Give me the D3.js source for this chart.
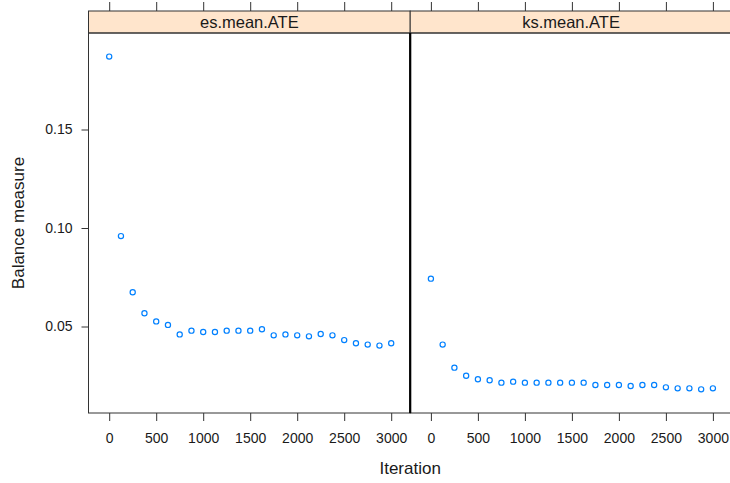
<!DOCTYPE html>
<html>
<head>
<meta charset="utf-8">
<script src="https://cdn.jsdelivr.net/npm/d3@7"></script>
<style>
  body { margin: 0; background: #fff; }
  svg text { font-family: "Liberation Sans", Arial, sans-serif; fill: #1a1a1a; }
</style>
</head>
<body>
<svg id="chart" width="730" height="483"></svg>
<script>
// balance trace per iteration
const panels = ["es.mean.ATE", "ks.mean.ATE"];
const iterations = [0, 125, 250, 375, 500, 625, 750, 875, 1000, 1125, 1250, 1375, 1500,
                    1625, 1750, 1875, 2000, 2125, 2250, 2375, 2500, 2625, 2750, 2875, 3000];
const esValues = [0.187, 0.0959, 0.0674, 0.0567, 0.0526, 0.0508, 0.0460, 0.0479, 0.0472,
                  0.0472, 0.0479, 0.0479, 0.0479, 0.0486, 0.0455, 0.0460, 0.0455, 0.0450,
                  0.0462, 0.0455, 0.0431, 0.0415, 0.0408, 0.0403, 0.0415];
const ksValues = [0.0743, 0.0408, 0.0291, 0.0250, 0.0232, 0.0227, 0.0215, 0.0220, 0.0215,
                  0.0215, 0.0215, 0.0215, 0.0215, 0.0215, 0.0203, 0.0203, 0.0203, 0.0198,
                  0.0203, 0.0203, 0.0191, 0.0186, 0.0186, 0.0181, 0.0186];
const xTicks = [0, 500, 1000, 1500, 2000, 2500, 3000];
const yTicks = [0.05, 0.10, 0.15];

const svg = d3.select("#chart");

const panelLeft = 88.5, panelW = 321.7;
const stripTop = 11, stripBottom = 33, panelBottom = 413;

const x = d3.scaleLinear().domain([0, 3000]).range([20.7, 302.7]);
const y = d3.scaleLinear().domain([0.05, 0.15]).range([326.5, 129.5]);

const seriesList = [esValues, ksValues];

panels.forEach((name, i) => {
    const g = svg.append("g")
        .attr("transform", `translate(${panelLeft + i * panelW},0)`);

    // strip
    g.append("rect")
        .attr("x", 0).attr("y", stripTop)
        .attr("width", panelW).attr("height", stripBottom - stripTop)
        .attr("fill", "#ffe5cc")
        .attr("stroke", "#333").attr("stroke-width", 1);
    g.append("text")
        .attr("x", panelW / 2).attr("y", stripBottom - 5.5)
        .attr("text-anchor", "middle")
        .style("font-size", "16.5px")
        .text(name);

    // panel box
    g.append("rect")
        .attr("x", 0).attr("y", stripBottom)
        .attr("width", panelW).attr("height", panelBottom - stripBottom)
        .attr("fill", "none")
        .attr("stroke", "#333").attr("stroke-width", 1);

    // bottom axis
    const xAxisG = g.append("g")
        .attr("transform", `translate(0,${panelBottom})`)
        .call(d3.axisBottom(x).tickValues(xTicks).tickSize(8).tickPadding(12).tickFormat(d3.format("d")));
    xAxisG.select(".domain").remove();
    xAxisG.selectAll("line").attr("stroke", "#333");
    xAxisG.selectAll("text").style("font-size", "14px").attr("fill", "#1a1a1a");

    // top ticks (no labels)
    const topG = g.append("g")
        .attr("transform", `translate(0,${stripTop})`)
        .call(d3.axisTop(x).tickValues(xTicks).tickSize(9).tickFormat(""));
    topG.select(".domain").remove();
    topG.selectAll("line").attr("stroke", "#333");

    // points
    const pts = iterations.map((it, k) => ({it: it, v: seriesList[i][k]}));
    g.append("g").selectAll("circle")
        .data(pts)
        .join("circle")
        .attr("cx", d => x(d.it))
        .attr("cy", d => y(d.v))
        .attr("r", 2.6)
        .attr("fill", "none")
        .attr("stroke", "#0080ff")
        .attr("stroke-width", 1.2);
});

// divider between panels drawn heavy like the reference
svg.append("line")
    .attr("x1", panelLeft + panelW).attr("x2", panelLeft + panelW)
    .attr("y1", stripBottom).attr("y2", panelBottom)
    .attr("stroke", "#000").attr("stroke-width", 2.2);

// left y axis
const yAxisG = svg.append("g")
    .attr("transform", `translate(${panelLeft},0)`)
    .call(d3.axisLeft(y).tickValues(yTicks).tickSize(7).tickPadding(9).tickFormat(d3.format(".2f")));
yAxisG.select(".domain").remove();
yAxisG.selectAll("line").attr("stroke", "#333");
yAxisG.selectAll("text").style("font-size", "14px").attr("fill", "#1a1a1a");

// axis labels
svg.append("text")
    .attr("x", panelLeft + panelW)
    .attr("y", 474)
    .attr("text-anchor", "middle")
    .style("font-size", "17px")
    .text("Iteration");

svg.append("text")
    .attr("transform", `translate(24,${(stripBottom + panelBottom) / 2}) rotate(-90)`)
    .attr("text-anchor", "middle")
    .style("font-size", "17px")
    .text("Balance measure");
</script>
</body>
</html>
